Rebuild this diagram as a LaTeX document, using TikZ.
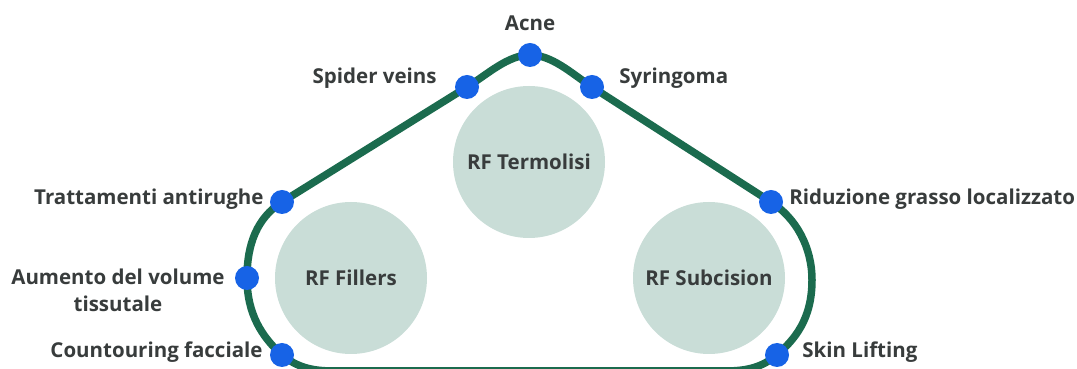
\documentclass[tikz,border=0pt]{standalone}
\usepackage{fontspec}
\setmainfont{Open Sans}
\usetikzlibrary{positioning,backgrounds}
\definecolor{pathgreen}{HTML}{1B6B4E}
\definecolor{dotblue}{HTML}{1763E6}
\definecolor{discfill}{HTML}{C9DDD7}
\definecolor{txtgray}{HTML}{383C3C}

\begin{document}
\begin{tikzpicture}[x=1pt,y=1pt,node distance=10pt]
	\tikzstyle{disc} = [circle, minimum size=152pt, inner sep=0pt, fill=discfill, text=txtgray, font=\bfseries\fontsize{20.5}{23}\selectfont]
	\tikzstyle{dot} = [circle, minimum size=24pt, inner sep=0pt, fill=dotblue]
	\tikzstyle{lbl} = [inner sep=0pt, text=txtgray, font=\bfseries\fontsize{20.5}{23}\selectfont, text height=14.5pt, text depth=4.5pt]
	\tikzstyle{lbltwo} = [inner sep=0pt, text=txtgray, align=center, font=\bfseries\fontsize{20.5}{27}\selectfont]
	\tikzstyle{outline} = [line width=7.5pt, draw=pathgreen]

	\useasboundingbox (0,0) rectangle (1077,369);

	\node (term) at (529,207) [disc] {RF Termolisi};
	\node (fillers) at (351,91) [disc] {RF Fillers};
	\node (subc) at (709,91) [disc] {RF Subcision};

	\node (acne) at (530,314) [dot] {};
	\node (spider) at (467,282) [dot] {};
	\node (syring) at (592,282) [dot] {};
	\node (antir) at (282,167) [dot] {};
	\node (grasso) at (771,167) [dot] {};
	\node (volume) at (247,91) [dot] {};
	\node (contour) at (282,14) [dot] {};
	\node (lifting) at (777,14) [dot] {};

	\node (acnelbl) [lbl, above=8pt of acne] {Acne};
	\node (spiderlbl) [lbl, left=18pt of spider, yshift=8pt] {Spider veins};
	\node (syringlbl) [lbl, right=15pt of syring, yshift=8pt] {Syringoma};
	\node (antirlbl) [lbl, left=6pt of antir, yshift=2pt] {Trattamenti antirughe};
	\node (grassolbl) [lbl, right=6pt of grasso, yshift=2pt] {Riduzione grasso localizzato};
	\node (volumelbl) [lbltwo, left=10pt of volume, yshift=-12.5pt] {Aumento del volume\\tissutale};
	\node (contourlbl) [lbl, left=7pt of contour, yshift=2pt] {Countouring facciale};
	\node (liftinglbl) [lbl, right=13pt of lifting, yshift=2pt] {Skin Lifting};

	%outline behind the dots
	\begin{scope}[on background layer]
		\draw [outline] (antir.center) -- (spider.center)
			.. controls (488,295) and (508,314) .. (acne.center)
			.. controls (552,314) and (571,296) .. (syring.center)
			-- (grasso.center)
			.. controls (796,151) and (812,122) .. (812,89)
			.. controls (812,50) and (795,30) .. (lifting.center)
			.. controls (762,2) and (748,-2) .. (725,-2)
			-- (334,-2)
			.. controls (311,-2) and (297,2) .. (contour.center)
			.. controls (262,32) and (247,55) .. (volume.center)
			.. controls (247,125) and (257,151) .. (antir.center);
	\end{scope}
\end{tikzpicture}
\end{document}
